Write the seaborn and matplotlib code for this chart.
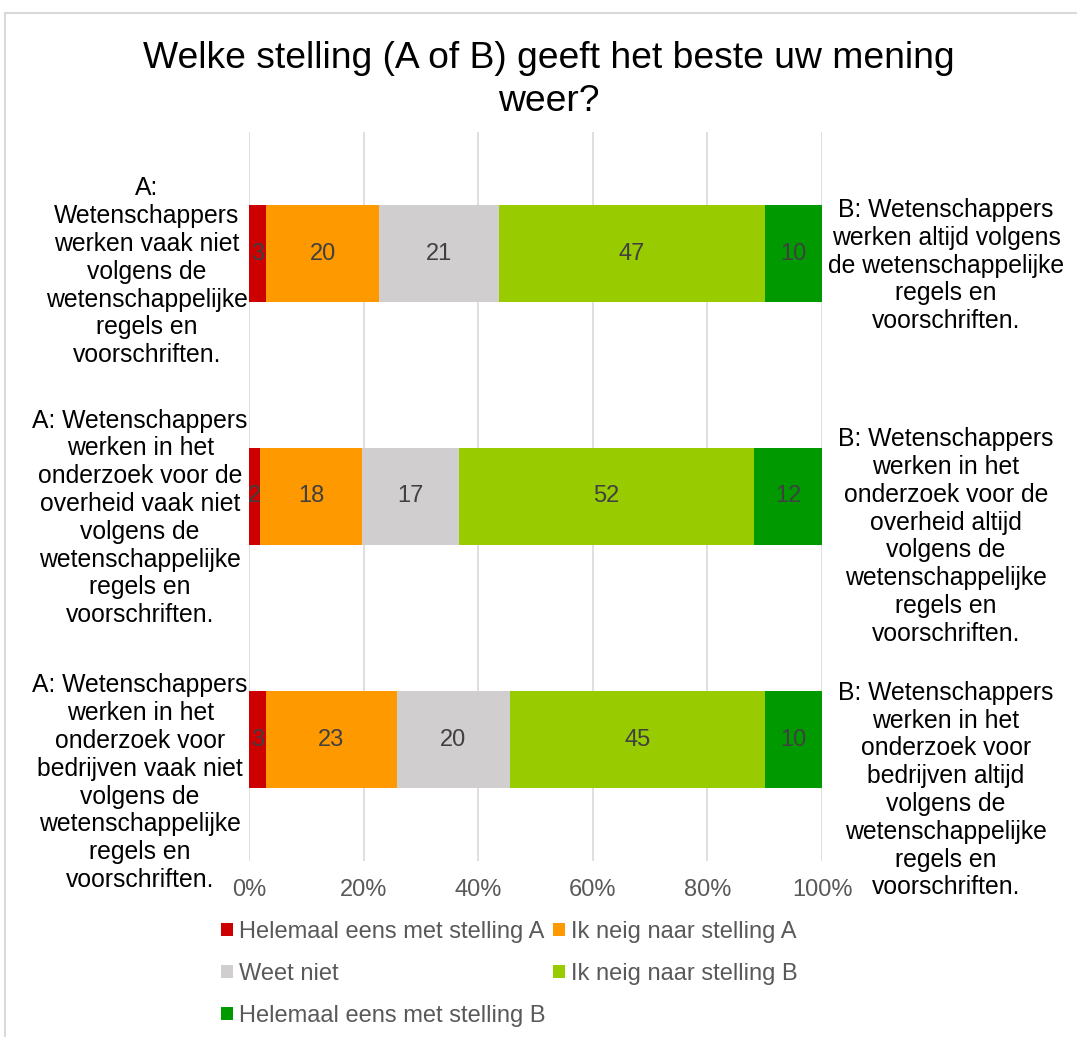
import numpy as np
import pandas as pd
import matplotlib
matplotlib.use("Agg")
import matplotlib.pyplot as plt
import seaborn as sns
from matplotlib.patches import Patch
from matplotlib.lines import Line2D
from matplotlib.transforms import blended_transform_factory


# DATA

title = "Welke stelling (A of B) geeft het beste uw mening\nweer?"

stelling_a = [
    "A:\nWetenschappers\nwerken vaak niet\nvolgens de\nwetenschappelijke\nregels en\nvoorschriften.",
    "A: Wetenschappers\nwerken in het\nonderzoek voor de\noverheid vaak niet\nvolgens de\nwetenschappelijke\nregels en\nvoorschriften.",
    "A: Wetenschappers\nwerken in het\nonderzoek voor\nbedrijven vaak niet\nvolgens de\nwetenschappelijke\nregels en\nvoorschriften.",
]

stelling_b = [
    "B: Wetenschappers\nwerken altijd volgens\nde wetenschappelijke\nregels en\nvoorschriften.",
    "B: Wetenschappers\nwerken in het\nonderzoek voor de\noverheid altijd\nvolgens de\nwetenschappelijke\nregels en\nvoorschriften.",
    "B: Wetenschappers\nwerken in het\nonderzoek voor\nbedrijven altijd\nvolgens de\nwetenschappelijke\nregels en\nvoorschriften.",
]

answers = [
    "Helemaal eens met stelling A",
    "Ik neig naar stelling A",
    "Weet niet",
    "Ik neig naar stelling B",
    "Helemaal eens met stelling B",
]

helemaal_a = [3, 2, 3]
neig_a = [20, 18, 23]
weet_niet = [21, 17, 20]
neig_b = [47, 52, 45]
helemaal_b = [10, 12, 10]

colors = ["#CC0000", "#FF9900", "#D0CECE", "#99CC00", "#009900"]
ticks = [0, 20, 40, 60, 80, 100]


# 100% STACKED VALUES

values = np.array([helemaal_a, neig_a, weet_niet, neig_b, helemaal_b], dtype=float).T
pct = values / values.sum(axis=1, keepdims=True) * 100
cum = pct.cumsum(axis=1)


# PLOT

sns.set_theme(style="white")
plt.rcParams["font.family"] = ["Liberation Sans", "DejaVu Sans"]

fig = plt.figure(figsize=(10.77, 10.37), dpi=100)
ax = fig.add_axes([249 / 1077, 1 - 861 / 1037, 573 / 1077, 729 / 1037])

# draw cumulative bars from the right so each segment shows as a stack
for k in range(len(answers) - 1, -1, -1):
    df = pd.DataFrame({"stelling": stelling_a, "pct": cum[:, k]})
    sns.barplot(data=df, x="pct", y="stelling", orient="h", color=colors[k],
                saturation=1, width=0.4, linewidth=0, ax=ax)

for i in range(len(stelling_a)):
    for k in range(len(answers)):
        start = cum[i, k] - pct[i, k]
        ax.text(start + pct[i, k] / 2, i, str(int(values[i, k])),
                ha="center", va="center", fontsize=17, color="#404040")

ax.set_xlim(0, 100)
ax.set_xticks(ticks)
ax.set_xticklabels([f"{t}%" for t in ticks], fontsize=17, color="#595959")
ax.tick_params(axis="x", length=0, pad=13)
ax.set_yticks([])
ax.set_xlabel("")
ax.set_ylabel("")
ax.grid(axis="x", color="#D9D9D9", linewidth=1.2)
ax.set_axisbelow(True)
for s in ax.spines.values():
    s.set_visible(False)

# statement labels on both sides
left_off = [0.075, 0.088, 0.178]
right_off = [0.05, 0.165, 0.208]
trans = blended_transform_factory(ax.transAxes, ax.transData)
for i in range(len(stelling_a)):
    ax.text(-0.002, i + left_off[i], stelling_a[i], transform=trans,
            ha="right", va="center", multialignment="center",
            fontsize=17.8, color="black")
    ax.text(1.2164, i + right_off[i], stelling_b[i], transform=trans,
            ha="center", va="center", multialignment="center",
            fontsize=17.8, color="black")

fig.text(549 / 1077, 1 - 80 / 1037, title, ha="center", va="center",
         fontsize=26.8, linespacing=1.3, color="black")

# legend, filled row by row
handles = [Patch(facecolor=c, edgecolor="none") for c in colors]
order = [0, 2, 4, 1, 3]
fig.legend([handles[j] for j in order], [answers[j] for j in order],
           ncol=2, loc="upper left", bbox_to_anchor=(221 / 1077, 1 - 921 / 1037),
           frameon=False, fontsize=17, labelcolor="#595959",
           handlelength=0.5, handleheight=0.5, handletextpad=0.25,
           columnspacing=0.33, labelspacing=0.85, borderpad=0, borderaxespad=0)

# chart area border
fig.add_artist(Line2D([5 / 1077, 1], [1 - 13 / 1037] * 2, color="#D9D9D9", lw=1.5))
fig.add_artist(Line2D([5 / 1077] * 2, [0, 1 - 13 / 1037], color="#D9D9D9", lw=1.5))

fig.savefig("out.png", dpi=100)
